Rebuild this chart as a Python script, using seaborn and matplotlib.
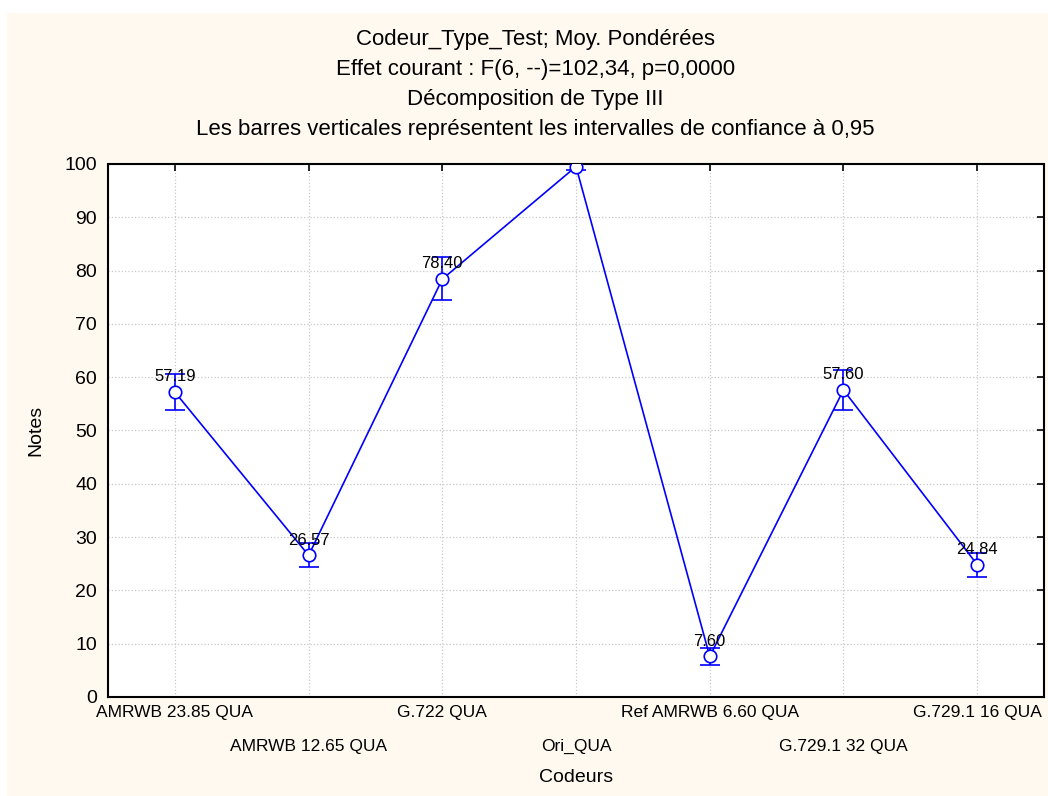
import numpy as np
import pandas as pd
import matplotlib
matplotlib.use('Agg')
import matplotlib.pyplot as plt
import seaborn as sns
from matplotlib.patches import Rectangle

# %% Data
codeurs = ['AMRWB 23.85 QUA', 'AMRWB 12.65 QUA', 'G.722 QUA', 'Ori_QUA',
           'Ref AMRWB 6.60 QUA', 'G.729.1 32 QUA', 'G.729.1 16 QUA']
notes = [57.19, 26.57, 78.40, 99.52, 7.60, 57.60, 24.84]
ci_low = [53.8, 24.3, 74.5, 98.9, 6.0, 53.8, 22.6]
ci_high = [60.6, 28.9, 82.5, 100.2, 9.1, 61.4, 27.0]

df = pd.DataFrame({'Codeurs': codeurs, 'Notes': notes})

# %% Plot
sns.set_style('white')
plt.rcParams['font.family'] = ['Liberation Sans', 'DejaVu Sans']
plt.rcParams['text.color'] = 'black'
plt.rcParams['axes.labelcolor'] = 'black'
plt.rcParams['xtick.color'] = 'black'
plt.rcParams['ytick.color'] = 'black'

fig = plt.figure(figsize=(10.48, 7.96), dpi=100)
fig.patch.set_facecolor('white')
bg = Rectangle((7/1048, 0), 1 - 7/1048, 1 - 13/796, transform=fig.transFigure,
               facecolor='#fff9ef', edgecolor='none', zorder=-10)
fig.add_artist(bg)
ax = fig.add_axes([0.1031, 0.1244, 0.8931, 0.6696])
ax.set_facecolor('white')

sns.lineplot(data=df, x='Codeurs', y='Notes', sort=False, color='#0000ff', linewidth=1.2,
             marker='o', markersize=9, markerfacecolor='white', markeredgecolor='#0000ff',
             markeredgewidth=1.2, ax=ax, zorder=4)
pos = np.arange(len(codeurs))
yerr = [np.array(notes) - np.array(ci_low), np.array(ci_high) - np.array(notes)]
ax.errorbar(pos, notes, yerr=yerr, fmt='none', ecolor='#0000ff', elinewidth=1.2,
            capsize=7, capthick=1.2, zorder=3)

for x, y in zip(pos, notes):
    ax.annotate(f'{y:.2f}', (x, y), xytext=(0, 11), textcoords='offset points',
                ha='center', va='center', fontsize=12, color='black', clip_on=True,
                annotation_clip=True, zorder=5)

ax.set_xlim(-0.5, len(codeurs) - 0.5)
ax.set_ylim(0, 100)
ax.set_yticks(range(0, 101, 10))
ax.set_xticks(pos)
ax.set_xticklabels(codeurs, fontsize=12.5)
for i, t in enumerate(ax.xaxis.get_major_ticks()):
    t.set_pad(6 if i % 2 == 0 else 30)
ax.tick_params(axis='y', labelsize=14, pad=8)
ax.tick_params(which='both', direction='in', top=True, right=True, length=5, width=1.2)

ax.grid(True, color='#c8c8c8', linestyle=':', linewidth=0.9)
for s in ax.spines.values():
    s.set_visible(True)
    s.set_color('black')
    s.set_linewidth(1.5)

ax.set_xlabel('Codeurs', fontsize=14, labelpad=11)
ax.set_ylabel('Notes', fontsize=14, labelpad=14)

titles = ['Codeur_Type_Test; Moy. Pondérées',
          'Effet courant : F(6, --)=102,34, p=0,0000',
          'Décomposition de Type III',
          'Les barres verticales représentent les intervalles de confiance à 0,95']
for k, line in enumerate(titles):
    fig.text(0.511, 1 - (40 + 30 * k) / 796, line, ha='center', va='center', fontsize=16)

fig.savefig('out.png', dpi=100, facecolor=fig.get_facecolor())
